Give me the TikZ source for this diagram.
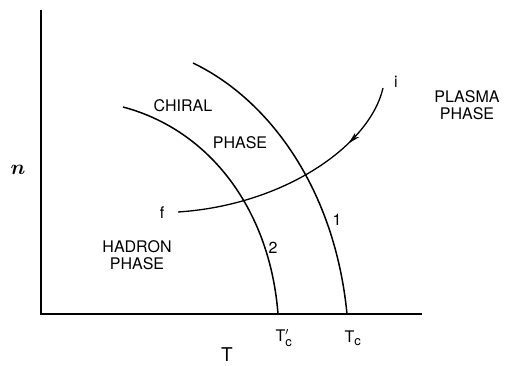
\documentclass[tikz,border=0pt]{standalone}
\usepackage{fontspec}
\setmainfont{TeX Gyre Heros}
\usepackage{bm}
\usetikzlibrary{arrows.meta,decorations.markings}

\begin{document}
\begin{tikzpicture}[x=1pt,y=-1pt,
  lbl/.style={font=\fontsize{16}{17}\selectfont,inner sep=0pt,align=center},
  axis/.style={line width=1.6pt},
  curve/.style={line width=1.5pt},
  flow/.style={line width=1.3pt,postaction={decorate},
    decoration={markings,mark=at position 0.26 with {\arrow{Stealth[length=12pt,width=6pt]}}}}]
\useasboundingbox (0,0) rectangle (509,365);
% axes
\coordinate (O) at (41,314);
\coordinate (ytop) at (41,10);
\coordinate (xend) at (422,314);
\draw[axis] (ytop) -- (O) -- (xend);
% phase boundaries
\coordinate (top1) at (193,63);
\coordinate (Tcend) at (347,314);
\coordinate (top2) at (123,107);
\coordinate (Tcpend) at (278,314);
\draw[curve] (top1) .. controls (270,100) and (335,190) .. (Tcend);
\draw[curve] (top2) .. controls (210,130) and (270,210) .. (Tcpend);
% path from i to f
\coordinate (start) at (383,88);
\coordinate (stop) at (178,212);
\draw[flow] (start) .. controls (370,145) and (285,205) .. (stop);
% labels
\node[lbl] (chiral) at (183,106) {CHIRAL};
\node[lbl] (chiralph) at (240,143) {PHASE};
\node[lbl] (plasma) at (467,105) {PLASMA\\PHASE};
\node[lbl] (hadron) at (137,255) {HADRON\\PHASE};
\node[lbl] (i) at (396,82) {i};
\node[lbl] (f) at (162,213) {f};
\node[lbl] (one) at (337,220) {1};
\node[lbl] (two) at (273,248) {2};
\node[lbl,font=\fontsize{22}{22}\selectfont] (n) at (18,170) {$\bm{n}$};
\node[lbl,font=\fontsize{19}{19}\selectfont] (T) at (227,355) {T};
\node[lbl] (Tcp) at (284,338) {T$^{\prime}_{\mbox{\fontsize{13}{13}\selectfont c}}$};
\node[lbl] (Tc) at (353,338) {T$_{\mbox{\fontsize{13}{13}\selectfont c}}$};
\end{tikzpicture}
\end{document}
